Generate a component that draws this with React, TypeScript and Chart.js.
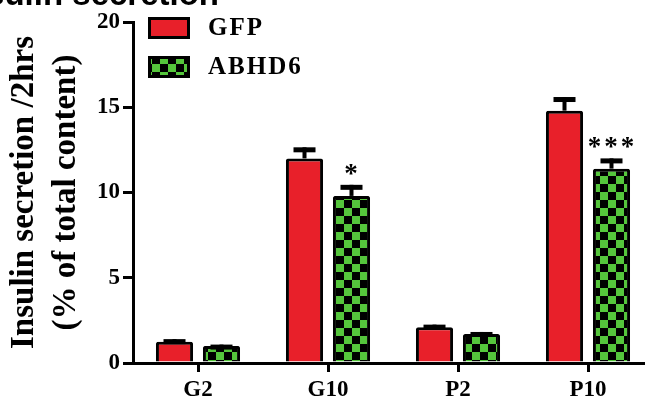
import React, { useEffect, useRef } from 'react';
import { Chart, registerables } from 'chart.js';

Chart.register(...registerables);

const categories = ['G2', 'G10', 'P2', 'P10'];
const gfpValues = [1.25, 12.0, 2.1, 14.8];
const gfpErrors = [0.15, 0.65, 0.15, 0.8];
const abhd6Values = [1.0, 9.8, 1.7, 11.4];
const abhd6Errors = [0.08, 0.65, 0.12, 0.6];
const significance = ['', '*', '', '***'];
const seriesNames = ['GFP', 'ABHD6'];
const yTicks = [0, 5, 10, 15, 20];

const RED = '#e8202a';
const GREEN = '#55c63c';
const SERIF = '"Liberation Serif", "Times New Roman", serif';

function makePattern(): CanvasPattern | string {
  const c = document.createElement('canvas');
  c.width = 16;
  c.height = 16;
  const g = c.getContext('2d');
  if (!g) return GREEN;
  g.fillStyle = GREEN;
  g.fillRect(0, 0, 16, 16);
  g.fillStyle = '#000';
  g.fillRect(0, 0, 8, 8);
  g.fillRect(8, 8, 8, 8);
  const p = g.createPattern(c, 'repeat');
  return p || GREEN;
}

export default function App() {
  const ref = useRef<HTMLCanvasElement | null>(null);

  useEffect(() => {
    if (!ref.current) return;
    const pattern = makePattern();
    const errors = [gfpErrors, abhd6Errors];

    const overlay = {
      id: 'overlay',
      afterDatasetsDraw(chart: any) {
        const ctx = chart.ctx;
        const y = chart.scales.y;
        ctx.save();
        chart.data.datasets.forEach((ds: any, di: number) => {
          const meta = chart.getDatasetMeta(di);
          meta.data.forEach((el: any, i: number) => {
            const top = y.getPixelForValue(ds.data[i] + errors[di][i]);
            ctx.fillStyle = '#000';
            ctx.fillRect(el.x - 2, top, 4, el.y - top);
            ctx.fillRect(el.x - 11, top, 22, 5);
            if (di === 1 && significance[i]) {
              ctx.font = `bold 27px ${SERIF}`;
              ctx.textAlign = 'center';
              ctx.textBaseline = 'alphabetic';
              (ctx as any).letterSpacing = '3px';
              ctx.fillText(significance[i], el.x + 1, top - 3);
              (ctx as any).letterSpacing = '0px';
            }
          });
        });
        ctx.restore();
      },
      afterDraw(chart: any) {
        const ctx = chart.ctx;
        ctx.save();
        // cropped figure title
        ctx.font = 'bold 33px "Liberation Sans", Arial, sans-serif';
        ctx.fillStyle = '#000';
        ctx.textAlign = 'right';
        ctx.textBaseline = 'alphabetic';
        ctx.fillText('Insulin secretion', 219, 5);
        // legend
        const boxes = [
          { y: 17, fill: RED },
          { y: 56, fill: pattern },
        ];
        boxes.forEach((b, i) => {
          ctx.fillStyle = '#000';
          ctx.fillRect(148, b.y, 42, 22);
          ctx.fillStyle = b.fill as any;
          ctx.fillRect(151, b.y + 3, 36, 16);
          ctx.fillStyle = '#000';
          ctx.font = `bold 25px ${SERIF}`;
          ctx.textAlign = 'left';
          ctx.textBaseline = 'middle';
          (ctx as any).letterSpacing = '2px';
          ctx.fillText(seriesNames[i], 208, b.y + 12);
          (ctx as any).letterSpacing = '0px';
        });
        ctx.restore();
      },
    };

    const chart = new Chart(ref.current, {
      type: 'bar',
      data: {
        labels: categories,
        datasets: [
          {
            label: seriesNames[0],
            data: gfpValues,
            backgroundColor: RED,
            borderColor: '#000',
            borderWidth: 3,
            borderRadius: 2,
            categoryPercentage: 0.723,
            barPercentage: 0.79,
          },
          {
            label: seriesNames[1],
            data: abhd6Values,
            backgroundColor: pattern as any,
            borderColor: '#000',
            borderWidth: 3,
            borderRadius: 2,
            categoryPercentage: 0.723,
            barPercentage: 0.79,
          },
        ],
      },
      options: {
        responsive: false,
        animation: false,
        devicePixelRatio: 1,
        layout: { padding: { top: 22, right: 7, left: 0, bottom: 0 } },
        plugins: {
          legend: { display: false },
          tooltip: { enabled: false },
          title: { display: false },
        },
        scales: {
          x: {
            offset: true,
            grid: {
              offset: false,
              drawOnChartArea: false,
              drawTicks: true,
              tickLength: 9,
              color: '#000',
              lineWidth: 3,
            },
            border: { display: true, color: '#000', width: 3 },
            ticks: {
              color: '#000',
              font: { family: SERIF, size: 23, weight: 'bold' },
              padding: 4,
            },
            afterFit: (s: any) => {
              s.height = 33;
            },
          },
          y: {
            min: 0,
            max: 20,
            afterBuildTicks: (s: any) => {
              s.ticks = yTicks.map((v) => ({ value: v }));
            },
            grid: {
              drawOnChartArea: false,
              drawTicks: true,
              tickLength: 10,
              color: '#000',
              lineWidth: 3,
            },
            border: { display: true, color: '#000', width: 3 },
            ticks: {
              color: '#000',
              font: { family: SERIF, size: 23, weight: 'bold' },
              padding: 3,
            },
            title: {
              display: true,
              text: ['Insulin secretion /2hrs', '(% of total content)'],
              color: '#000',
              font: { family: SERIF, size: 33, weight: 'bold', lineHeight: 1.27 },
              padding: { top: 4, bottom: 0 },
            },
            afterFit: (s: any) => {
              s.width = 133;
            },
          },
        },
      },
      plugins: [overlay],
    });
    return () => chart.destroy();
  }, []);

  return (
    <div style={{ position: 'absolute', left: 0, top: 0, width: 645, height: 396, overflow: 'hidden', background: '#fff' }}>
      <canvas ref={ref} width={660} height={396} />
    </div>
  );
}
